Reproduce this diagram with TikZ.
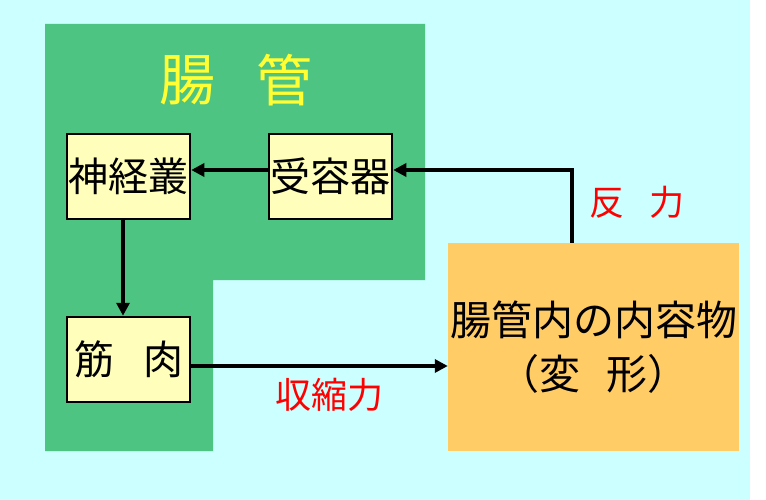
\documentclass[tikz,border=0pt]{standalone}
\usepackage{fontspec}
\setmainfont{Noto Sans CJK JP}
\usetikzlibrary{arrows.meta}
\definecolor{bgcyan}{HTML}{CCFFFF}
\definecolor{gutgreen}{HTML}{4EC483}
\definecolor{boxyellow}{HTML}{FFFFBB}
\definecolor{contorange}{HTML}{FFCC66}
\definecolor{titleyellow}{HTML}{FFFF33}
\tikzset{
  organ/.style={draw=black, line width=2.5pt, fill=boxyellow, minimum width=123pt, minimum height=85pt, inner sep=0pt, font=\fontsize{40}{48}\selectfont},
  flow/.style={line width=4.3pt, -{Triangle[length=13pt,width=13pt]}},
  forcelabel/.style={text=red, inner sep=0pt},
}
\begin{document}
\begin{tikzpicture}[x=1pt,y=-1pt]
\useasboundingbox (0,0) rectangle (766,500);
\fill[bgcyan] (0,0) rectangle (750,500);
\fill[gutgreen] (45,24) -- (425,24) -- (425,280) -- (213,280) -- (213,451) -- (45,451) -- cycle;
\node[text=titleyellow, inner sep=0pt, font=\fontsize{56}{60}\selectfont] (t1) at (187,80) {腸};
\node[text=titleyellow, inner sep=0pt, font=\fontsize{56}{60}\selectfont] (t2) at (284,80) {管};
\node[organ] (plex) at (128.5,176.5) {神経叢};
\node[organ] (rec) at (330.5,176.5) {受容器};
\node[organ] (mus) at (128.5,359.5) {筋\hspace{29pt}肉};
\node[fill=contorange, minimum width=291pt, minimum height=208pt, inner sep=0pt, align=center, font=\fontsize{41}{54}\selectfont] (cont) at (593.5,347) {腸管内の内容物\\（変\hspace{27pt}形）};
\coordinate (up) at (572,170);
\draw[flow] (cont.north -| up) |- ([yshift=6.5pt]rec.east);
\draw[flow] ([yshift=6.5pt]rec.west) -- ([yshift=6.5pt]plex.east);
\draw[flow] ([xshift=-5.5pt]plex.south) -- ([xshift=-5.5pt]mus.north);
\draw[flow] ([yshift=-6.5pt]mus.east) -- ([yshift=-6.5pt]mus.east -| cont.west);
\node[forcelabel, font=\fontsize{35}{40}\selectfont] (rf) at (637,202) {反\hspace{26pt}力};
\node[forcelabel, font=\fontsize{36}{40}\selectfont] (cf) at (329,395) {収縮力};
\end{tikzpicture}
\end{document}
